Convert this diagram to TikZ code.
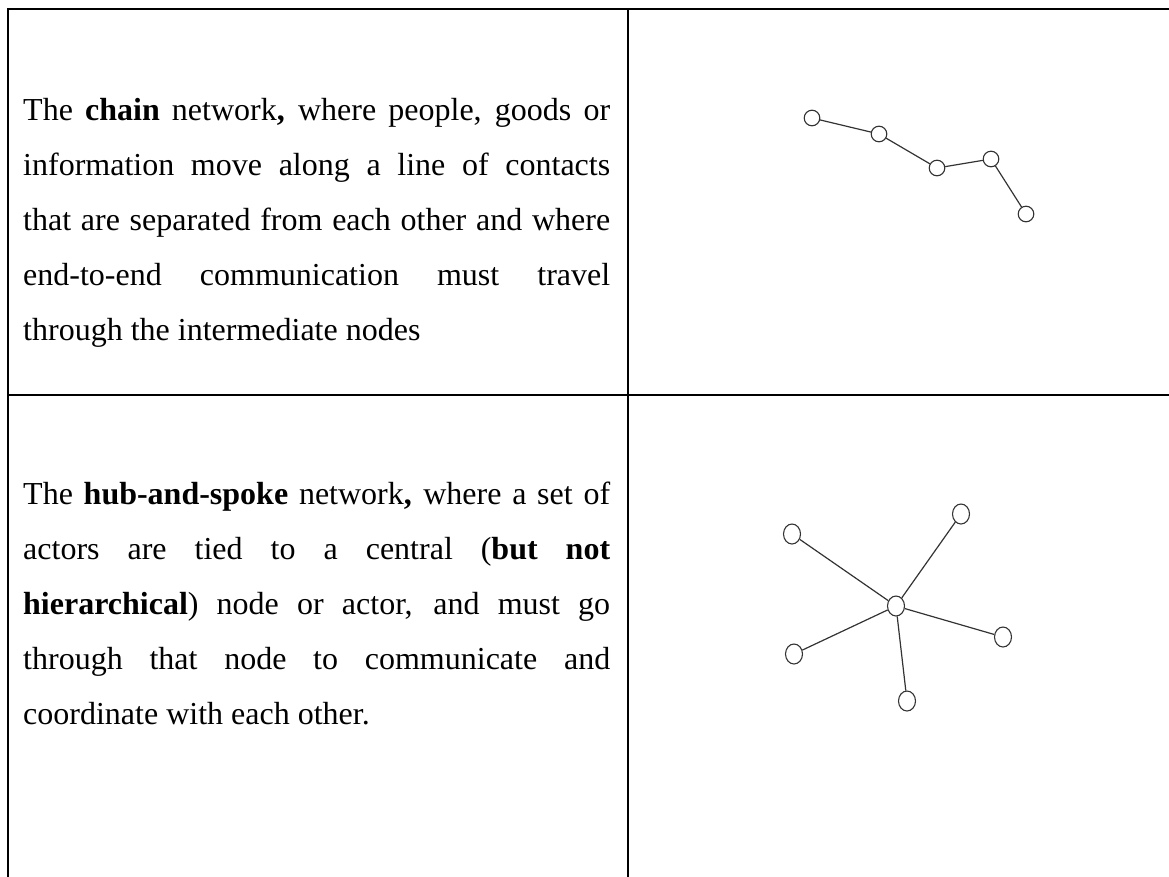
\documentclass[tikz,border=0pt]{standalone}
\usepackage{fontspec}
\setmainfont{Liberation Serif}
\usetikzlibrary{shapes.geometric}
\newcommand\parsetup{\tolerance=10000\relax\hyphenpenalty=10000\relax\exhyphenpenalty=10000\relax}
\begin{document}
\begin{tikzpicture}[x=1pt,y=-1pt,
  rule/.style={line width=2pt, line cap=rect},
  para/.style={anchor=base west, inner sep=0pt, text width=587pt, align=justify,
    font=\fontsize{32}{55}\selectfont},
  cnode/.style={draw=black!80, fill=white, ellipse, minimum width=15.6pt, minimum height=15.6pt, inner sep=0pt, line width=1.1pt},
  hnode/.style={cnode, minimum width=17pt, minimum height=20pt},
  link/.style={draw=black!80, line width=1.2pt}]
\useasboundingbox (0,0) rectangle (1169,876);
% table rules
\coordinate (tl) at (8,9);
\coordinate (tr) at (1169,9);
\coordinate (ml) at (8,395);
\coordinate (mr) at (1169,395);
\coordinate (bl) at (8,876);
\coordinate (tm) at (628,9);
\coordinate (bm) at (628,876);
\draw[rule] (tr) -- (tl) -- (bl);
\draw[rule] (ml) -- (mr);
\draw[rule] (tm) -- (bm);
% texts
\node[para] (t1) at (23,120) {\parsetup The \textbf{chain} network\textbf{,} where people, goods or\linebreak
information move along a line of contacts\linebreak
that are separated from each other and where\linebreak
end-to-end communication must travel\linebreak
through the intermediate nodes};
\node[para] (t2) at (23,504) {\parsetup The \textbf{hub-and-spoke} network\textbf{,} where a set of\linebreak
actors are tied to a central (\textbf{but not}\linebreak
\textbf{hierarchical}) node or actor, and must go\linebreak
through that node to communicate and\linebreak
coordinate with each other.};
% chain network
\node[cnode] (c1) at (812,118) {};
\node[cnode] (c2) at (879,134) {};
\node[cnode] (c3) at (937,168) {};
\node[cnode] (c4) at (991,159) {};
\node[cnode] (c5) at (1026,214) {};
\draw[link] (c1) -- (c2) -- (c3) -- (c4) -- (c5);
% hub and spoke
\node[hnode] (h0) at (896,606) {};
\node[hnode] (h1) at (792,534) {};
\node[hnode] (h2) at (961,514) {};
\node[hnode] (h3) at (1003,637) {};
\node[hnode] (h4) at (794,654) {};
\node[hnode] (h5) at (907,701) {};
\foreach \i in {1,...,5} \draw[link] (h0) -- (h\i);
\end{tikzpicture}
\end{document}
